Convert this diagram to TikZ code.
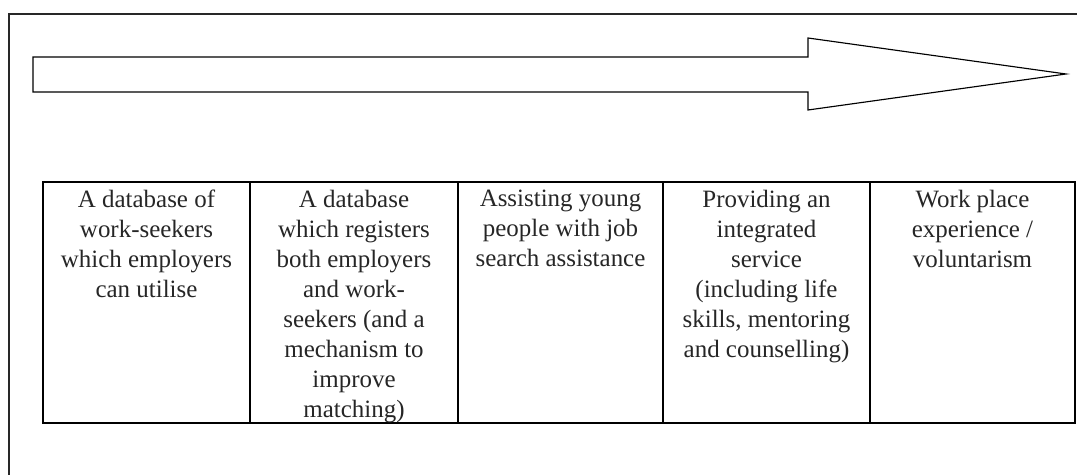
\documentclass[tikz,border=0pt]{standalone}
\usepackage{fontspec}
\setmainfont{Liberation Serif}
\usepackage{tikz}
\usetikzlibrary{arrows.meta}
\usepackage{xcolor}
\definecolor{framecolor}{RGB}{40, 40, 40}
\definecolor{cellline}{RGB}{0, 0, 0}

\begin{document}
\begin{tikzpicture}[x=0.02cm, y=-0.02cm, >=Stealth,
    celltext/.style={anchor=north, inner sep=0pt, align=center,
      font=\fontsize{14.2}{17.07}\selectfont, text=black!85}]

  \clip (0,0) rectangle (1077,475);

  % ---------- Outer frame (runs off the page right and below) ----------
  \draw[framecolor, line width=0.7pt] (1100,14) -- (9,14) -- (9,500);

  % ---------- Big arrow ----------
  \draw[black, line width=0.65pt, line join=miter]
    (33,57) -- (808,57) -- (808,38) -- (1066,74) -- (808,110) -- (808,92) -- (33,92) -- cycle;

  % ---------- Table of five stages ----------
  \draw[cellline, line width=0.85pt] (43,182) rectangle (1075,423);
  \foreach \xdiv in {250, 458, 663, 870}
    \draw[cellline, line width=0.85pt] (\xdiv,182) -- (\xdiv,423);

  \node[celltext] (dbSeekers) at (146.5,190) {A database of\\work-seekers\\which employers\\can utilise};
  \node[celltext] (dbBoth) at (354,190) {A database\\which registers\\both employers\\and work-\\seekers (and a\\mechanism to\\improve\\matching)};
  \node[celltext] (jobSearch) at (560.5,190) {Assisting young\\people with job\\search assistance};
  \node[celltext] (integrated) at (766.5,190) {Providing an\\integrated\\service\\(including life\\skills, mentoring\\and counselling)};
  \node[celltext] (workPlace) at (972.5,190) {Work place\\experience /\\voluntarism};

\end{tikzpicture}
\end{document}
